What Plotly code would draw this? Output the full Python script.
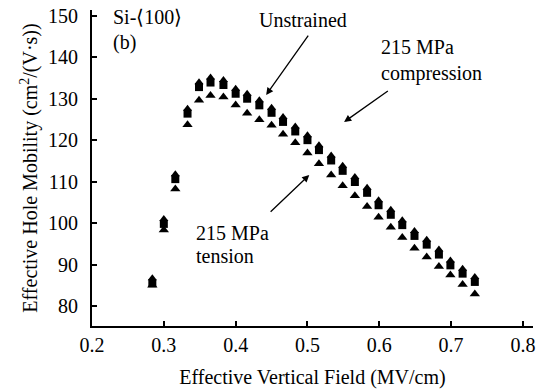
import plotly.graph_objects as go

field = [0.284, 0.300, 0.316, 0.333, 0.349, 0.365, 0.383, 0.400, 0.416, 0.433,
         0.450, 0.466, 0.483, 0.500, 0.516, 0.533, 0.549, 0.566, 0.583, 0.599,
         0.616, 0.632, 0.649, 0.666, 0.683, 0.699, 0.716, 0.733]

unstrained = [85.5, 99.8, 110.6, 126.4, 132.8, 133.9, 133.3, 131.2, 130.0, 128.4,
              126.6, 124.4, 122.1, 120.0, 117.6, 115.1, 112.6, 109.9, 107.3, 104.3,
              102.0, 99.5, 96.9, 94.8, 92.4, 89.8, 87.8, 85.8]

compression = [86.7, 101.0, 111.8, 127.6, 134.0, 135.1, 134.5, 132.4, 131.2, 129.6,
               127.8, 125.6, 123.3, 121.2, 118.8, 116.3, 113.8, 111.1, 108.5, 105.5,
               103.2, 100.7, 98.1, 96.0, 93.6, 91.0, 89.0, 87.0]

tension = [85.0, 98.3, 108.2, 123.7, 129.6, 130.8, 130.4, 128.5, 126.5, 124.9,
           123.6, 121.4, 119.4, 116.9, 114.3, 111.6, 109.0, 106.6, 104.0, 101.4,
           99.0, 96.5, 93.9, 91.8, 89.5, 87.5, 85.2, 82.9]

x_ticks = [0.2, 0.3, 0.4, 0.5, 0.6, 0.7, 0.8]
y_ticks = [80, 90, 100, 110, 120, 130, 140, 150]

FONT = "Liberation Serif"
FS = 20

fig = go.Figure()
fig.add_trace(go.Scatter(x=field, y=unstrained, mode="markers", name="Unstrained",
                         marker=dict(symbol="square", size=8, color="black")))
fig.add_trace(go.Scatter(x=field, y=compression, mode="markers", name="215 MPa compression",
                         marker=dict(symbol="triangle-up", size=8, color="black")))
fig.add_trace(go.Scatter(x=field, y=tension, mode="markers", name="215 MPa tension",
                         marker=dict(symbol="triangle-up", size=9, color="black")))

def label(text, x, y, xanchor="left"):
    fig.add_annotation(x=x, y=y, xref="x", yref="y", text=text, showarrow=False,
                       xanchor=xanchor, yanchor="middle",
                       font=dict(family=FONT, size=FS, color="black"))

def arrow(x0, y0, x1, y1):
    fig.add_annotation(x=x1, y=y1, ax=x0, ay=y0, xref="x", yref="y", axref="x", ayref="y",
                       text="", showarrow=True, arrowhead=2, arrowsize=1.1,
                       arrowwidth=1.3, arrowcolor="black")

label("Si-⟨100⟩", 0.226, 149.8)
label("(b)", 0.226, 143.5)
label("Unstrained", 0.494, 149.0, xanchor="center")
label("215 MPa", 0.600, 142.5)
label("compression", 0.600, 136.2)
label("215 MPa", 0.342, 97.6)
label("tension", 0.342, 92.1)

arrow(0.5025, 145.6, 0.4425, 130.9)
arrow(0.614, 132.1, 0.551, 124.4)
arrow(0.4466, 102.4, 0.5025, 111.6)

axis_common = dict(showline=True, linecolor="black", linewidth=2, mirror=False,
                   ticks="inside", ticklen=5, tickwidth=2, tickcolor="black",
                   showgrid=False, zeroline=False,
                   tickfont=dict(family=FONT, size=FS, color="black"))

fig.update_xaxes(range=[0.2, 0.814], tickvals=x_ticks, ticktext=[f"{v:.1f}" for v in x_ticks],
                 title=dict(text="Effective Vertical Field (MV/cm)",
                            font=dict(family=FONT, size=FS, color="black"), standoff=15),
                 ticklabelstandoff=0, **axis_common)
fig.update_yaxes(range=[75.17, 151.4], tickvals=y_ticks, ticktext=[str(v) for v in y_ticks],
                 title=dict(text="Effective Hole Mobility (cm<sup>2</sup>/(V·s))",
                            font=dict(family=FONT, size=FS, color="black"), standoff=5),
                 ticklabelstandoff=8, **axis_common)

fig.update_layout(width=551, height=390, showlegend=False,
                  font=dict(family=FONT, size=FS, color="black"),
                  margin=dict(l=92, r=18, t=10, b=64, autoexpand=False),
                  plot_bgcolor="white", paper_bgcolor="white")

fig.write_html("out.html", config={"displayModeBar": False},
               post_script="document.body.style.margin='0';document.body.style.padding='0';")
